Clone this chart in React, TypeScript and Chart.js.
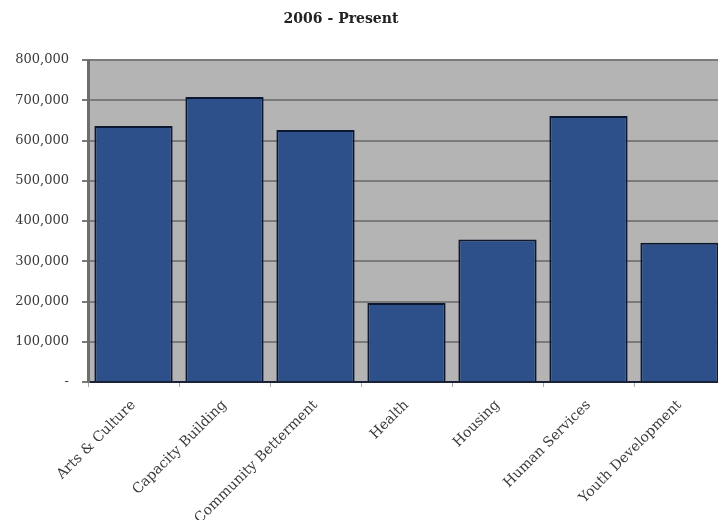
import React, { useEffect, useRef } from "react";
import { Chart, registerables } from "chart.js";

Chart.register(...registerables);

const TITLE = "2006 - Present";
const CATEGORIES = [
  "Arts & Culture",
  "Capacity Building",
  "Community Betterment",
  "Health",
  "Housing",
  "Human Services",
  "Youth Development",
];
const AMOUNTS = [636000, 708000, 626000, 196000, 354000, 661000, 346000];
const Y_MIN = 0;
const Y_MAX = 800000;
const Y_STEP = 100000;

const FONT = "'DejaVu Serif', 'Liberation Serif', serif";

const plotBg = {
  id: "plotBg",
  beforeDraw(chart: any) {
    const { ctx, chartArea } = chart;
    ctx.save();
    ctx.fillStyle = "#b4b4b4";
    ctx.fillRect(chartArea.left, chartArea.top, chartArea.right - chartArea.left, chartArea.bottom - chartArea.top);
    ctx.restore();
  },
  afterDraw(chart: any) {
    const { ctx } = chart;
    ctx.save();
    ctx.font = `bold 14px ${FONT}`;
    ctx.fillStyle = "#222";
    ctx.textAlign = "center";
    ctx.textBaseline = "middle";
    ctx.fillText(TITLE, 341, 19);
    ctx.restore();
  },
};

export default function App() {
  const ref = useRef<HTMLCanvasElement>(null);
  useEffect(() => {
    document.body.style.margin = "0";
    const chart = new Chart(ref.current!, {
      type: "bar",
      data: {
        labels: CATEGORIES,
        datasets: [
          {
            data: AMOUNTS,
            backgroundColor: "#2d4f8a",
            borderColor: "#0b1830",
            borderWidth: 2,
            categoryPercentage: 1,
            barPercentage: 0.86,
          },
        ],
      },
      options: {
        responsive: false,
        animation: false,
        layout: { padding: { top: 60, right: 1, left: 0, bottom: 0 } },
        plugins: { legend: { display: false }, tooltip: { enabled: false }, title: { display: false } },
        scales: {
          x: {
            grid: { display: true, drawOnChartArea: false, color: "#aaaaaa", tickLength: 5, offset: true },
            border: { color: "#1a2238", width: 2 },
            ticks: {
              maxRotation: 45,
              minRotation: 45,
              color: "#3a3a3a",
              padding: 10,
              font: { family: FONT, size: 14 },
            },
            afterFit(scale: any) {
              scale.height = 138;
            },
          },
          y: {
            min: Y_MIN,
            max: Y_MAX,
            grid: { color: "#7a7a7a", lineWidth: 2, tickLength: 6 },
            border: { color: "#6e6e6e", width: 3 },
            ticks: {
              stepSize: Y_STEP,
              color: "#3a3a3a",
              padding: 13,
              font: { family: FONT, size: 13 },
              callback: (v: any) => (Number(v) === 0 ? "-" : Number(v).toLocaleString("en-US")),
            },
            afterFit(scale: any) {
              scale.width = 88;
            },
          },
        },
      },
      plugins: [plotBg],
    });
    return () => chart.destroy();
  }, []);
  return (
    <div style={{ width: 718, height: 520, overflow: "hidden", background: "#fff" }}>
      <canvas ref={ref} width={726} height={520} style={{ display: "block" }} />
    </div>
  );
}
